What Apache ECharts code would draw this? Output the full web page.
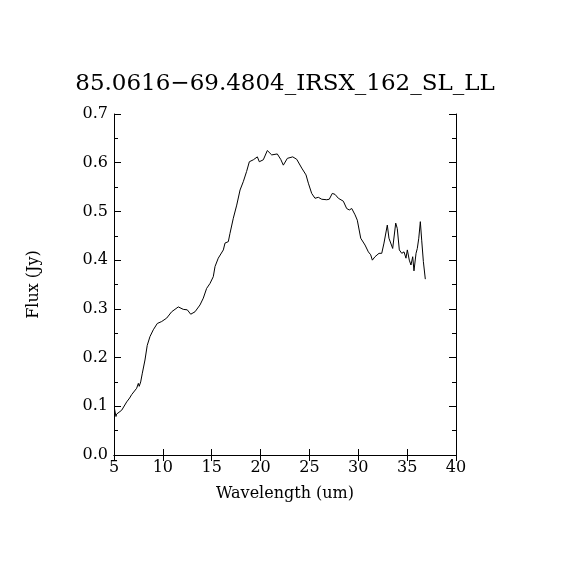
<!DOCTYPE html>
<html>
<head>
<meta charset="utf-8">
<script src="https://cdn.jsdelivr.net/npm/echarts@6/dist/echarts.min.js"></script>
<style>
  html, body { margin: 0; padding: 0; background: #fff; }
  #main { width: 570px; height: 570px; }
</style>
</head>
<body>
<div id="main"></div>
<script>
// 波长 (um)
var wavelength = [5.05, 5.2, 5.27, 5.79, 6.3, 6.47, 6.6, 6.81, 7.0, 7.32, 7.49, 7.58, 7.73, 7.9, 8.17, 8.4, 8.68, 9.02, 9.43, 9.88,
  10.39, 10.9, 11.58, 12.09, 12.5, 12.85, 13.29, 13.8, 14.14, 14.48, 14.82, 15.16, 15.34, 15.67,
  16.19, 16.36, 16.7, 16.87, 17.21, 17.56, 17.9, 18.23, 18.57, 18.85, 19.26, 19.67, 19.87, 20.28,
  20.69, 21.14, 21.71, 22.06, 22.33, 22.74, 23.29, 23.7, 24.21, 24.65, 24.89, 25.23, 25.57, 25.91,
  26.26, 26.77, 27.03, 27.34, 27.62, 27.96, 28.47, 28.81, 29.08, 29.33, 29.67, 29.9, 30.25, 30.69,
  31.03, 31.27, 31.44, 31.71, 32.12, 32.4, 32.63, 32.97, 33.14, 33.32, 33.52, 33.83, 33.99, 34.2,
  34.45, 34.68, 34.88, 35.02, 35.22, 35.39, 35.57, 35.7, 35.91, 36.04, 36.19, 36.35, 36.49, 36.66, 36.86];
// 流量 (Jy)
var flux = [0.095, 0.079, 0.084, 0.092, 0.109, 0.113, 0.117, 0.124, 0.127, 0.137, 0.147, 0.141, 0.150, 0.168, 0.195, 0.225, 0.243, 0.257, 0.270, 0.274,
  0.281, 0.294, 0.304, 0.299, 0.298, 0.289, 0.294, 0.308, 0.322, 0.342, 0.352, 0.366, 0.387, 0.404,
  0.421, 0.435, 0.438, 0.455, 0.486, 0.513, 0.544, 0.561, 0.582, 0.602, 0.606, 0.612, 0.602, 0.606,
  0.625, 0.616, 0.618, 0.607, 0.595, 0.609, 0.612, 0.607, 0.589, 0.575, 0.558, 0.537, 0.527, 0.529,
  0.525, 0.524, 0.525, 0.537, 0.535, 0.527, 0.521, 0.506, 0.503, 0.506, 0.493, 0.482, 0.445, 0.431,
  0.417, 0.411, 0.400, 0.407, 0.414, 0.414, 0.435, 0.472, 0.445, 0.448, 0.424, 0.476, 0.465, 0.421,
  0.414, 0.417, 0.404, 0.421, 0.400, 0.390, 0.407, 0.378, 0.414, 0.424, 0.445, 0.479, 0.441, 0.397, 0.361];

var chartTitle = '85.0616\u221269.4804_IRSX_162_SL_LL';

var points = [];
for (var i = 0; i < wavelength.length; i++) {
    points.push([wavelength[i], flux[i]]);
}

var myChart = echarts.init(document.getElementById('main'));
var fontFam = 'DejaVu Serif';
var axisLine = { show: true, lineStyle: { color: '#000', width: 1 } };

var option = {
    backgroundColor: '#fff',
    animation: false,
    title: {
        text: chartTitle,
        left: 'center',
        top: 68,
        textStyle: { fontFamily: fontFam, fontSize: 23, fontWeight: 'normal', color: '#000' }
    },
    grid: { left: 114, right: 114, top: 114, bottom: 115 },
    xAxis: [{
        type: 'value',
        min: 5,
        max: 40,
        interval: 5,
        name: 'Wavelength (um)',
        nameLocation: 'middle',
        nameGap: 31,
        nameTextStyle: { fontFamily: fontFam, fontSize: 16, color: '#000' },
        axisLine: axisLine,
        axisTick: { inside: true, length: 6, lineStyle: { color: '#000' } },
        axisLabel: { fontFamily: fontFam, fontSize: 16, color: '#000', margin: 5 },
        splitLine: { show: false }
    }, {
        type: 'value',
        position: 'top',
        min: 5,
        max: 40,
        interval: 5,
        axisLine: axisLine,
        axisTick: { inside: true, length: 6, lineStyle: { color: '#000' } },
        axisLabel: { show: false },
        splitLine: { show: false }
    }],
    yAxis: [{
        type: 'value',
        min: 0,
        max: 0.7,
        interval: 0.1,
        name: 'Flux (Jy)',
        nameLocation: 'middle',
        nameGap: 72,
        nameTextStyle: { fontFamily: fontFam, fontSize: 16, color: '#000' },
        axisLine: axisLine,
        axisTick: { inside: true, length: 7, lineStyle: { color: '#000' } },
        minorTick: { show: true, splitNumber: 2, length: 4, lineStyle: { color: '#000' } },
        axisLabel: {
            fontFamily: fontFam, fontSize: 16, color: '#000', margin: 6,
            formatter: function (v) { return v.toFixed(1); }
        },
        splitLine: { show: false },
        minorSplitLine: { show: false }
    }, {
        type: 'value',
        position: 'right',
        min: 0,
        max: 0.7,
        interval: 0.1,
        axisLine: axisLine,
        axisTick: { inside: true, length: 7, lineStyle: { color: '#000' } },
        minorTick: { show: true, splitNumber: 2, length: 4, lineStyle: { color: '#000' } },
        axisLabel: { show: false },
        splitLine: { show: false },
        minorSplitLine: { show: false }
    }],
    series: [{
        type: 'line',
        data: points,
        xAxisIndex: 0,
        yAxisIndex: 0,
        showSymbol: false,
        lineStyle: { color: '#000', width: 1 }
    }]
};

myChart.setOption(option);
</script>
</body>
</html>
